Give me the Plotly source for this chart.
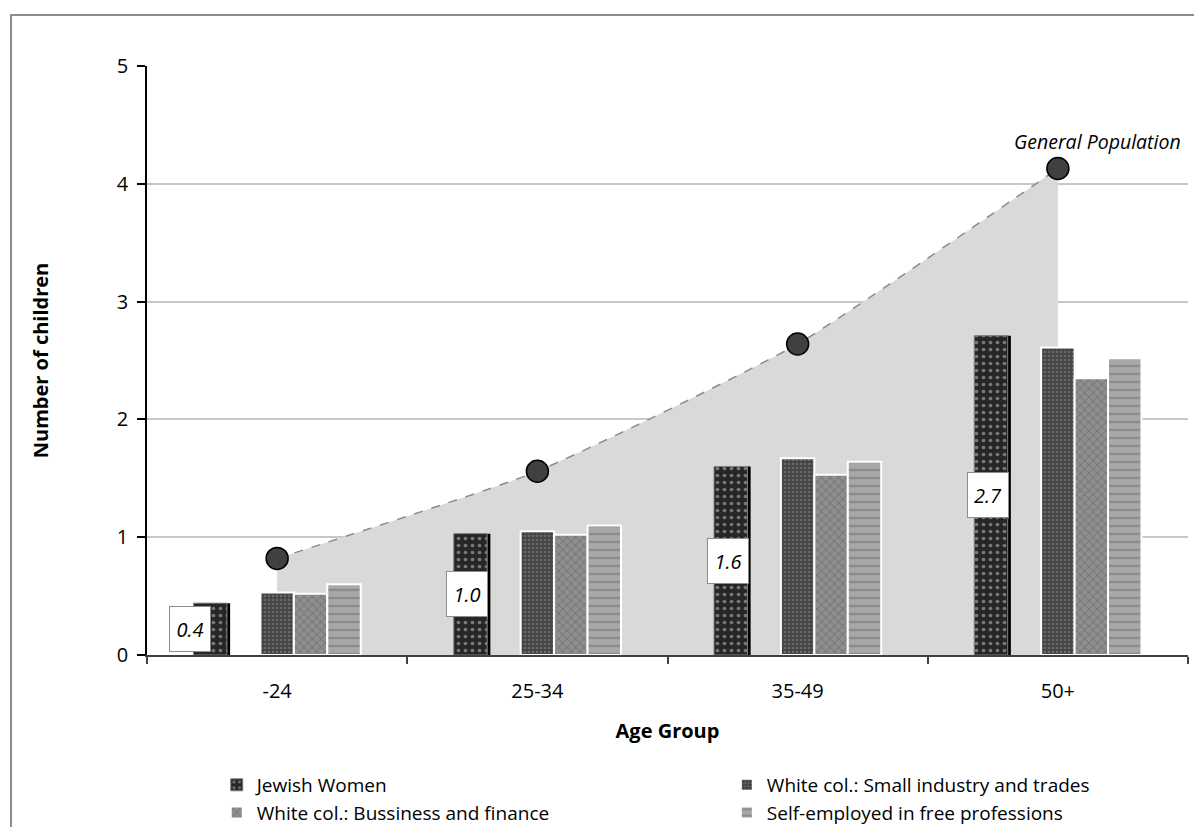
import plotly.graph_objects as go

# Age groups on the category axis
age_groups = ["-24", "25-34", "35-49", "50+"]

# Average number of children per group
jewish_women = [0.44, 1.03, 1.60, 2.71]
small_industry = [0.53, 1.05, 1.67, 2.61]
business_finance = [0.52, 1.02, 1.53, 2.35]
self_employed = [0.60, 1.10, 1.64, 2.52]
general_population = [0.82, 1.56, 2.64, 4.13]

FONT = "Open Sans"
FS = 20
SLOT = 0.1285          # width of one bar slot, in category units
GROUP_START = -2.5 * SLOT

def slot_offset(k):
    return GROUP_START + k * SLOT

fig = go.Figure()

# Shaded area under the general population curve (drawn on the base axes,
# so it sits behind the bars on the overlaid axes)
fig.add_trace(go.Scatter(
    x=age_groups, y=general_population,
    mode="lines", fill="tozeroy", fillcolor="#d9d9d9",
    line=dict(color="#8c8c8c", width=1.5, dash="dash", shape="spline", smoothing=0.5),
    showlegend=False, hoverinfo="skip",
    xaxis="x", yaxis="y",
))

# Drop shadow behind the Jewish Women bars
fig.add_trace(go.Bar(
    x=age_groups, y=jewish_women,
    offset=slot_offset(0) + 0.016, width=SLOT * 0.97,
    marker=dict(color="#000000", line=dict(width=0)),
    showlegend=False, hoverinfo="skip",
    xaxis="x2", yaxis="y2",
))

# name, values, slot, colour, pattern, outline, legend column
bar_series = [
    ("Jewish Women", jewish_women, 0, "#262626",
     dict(shape=".", fgcolor="#c8c8c8", size=7, solidity=0.22, fillmode="overlay"),
     dict(color="#7f7f7f", width=1), "legend"),
    ("White col.: Small industry and trades", small_industry, 2, "#444444",
     dict(shape=".", fgcolor="#8e8e8e", size=4, solidity=0.35, fillmode="overlay"),
     dict(color="#ffffff", width=2), "legend2"),
    ("White col.: Bussiness and finance", business_finance, 3, "#8f8f8f",
     dict(shape="x", fgcolor="#5e5e5e", size=6, solidity=0.3, fillmode="overlay"),
     dict(color="#ffffff", width=2), "legend"),
    ("Self-employed in free professions", self_employed, 4, "#a8a8a8",
     dict(shape="-", fgcolor="#6e6e6e", size=8, solidity=0.3, fillmode="overlay"),
     dict(color="#ffffff", width=2), "legend2"),
]

for name, values, slot, color, pattern, outline, legend in bar_series:
    fig.add_trace(go.Bar(
        x=age_groups, y=values, name=name,
        offset=slot_offset(slot), width=SLOT,
        marker=dict(color=color, pattern=pattern, line=outline),
        xaxis="x2", yaxis="y2", legend=legend,
    ))

# General population markers on top of everything
fig.add_trace(go.Scatter(
    x=age_groups, y=general_population,
    mode="markers",
    marker=dict(size=22, color="#404040", line=dict(color="#000000", width=1.5)),
    showlegend=False,
    xaxis="x2", yaxis="y2",
))

# Value boxes centred on the Jewish Women bars
for i, v in enumerate(jewish_women):
    fig.add_annotation(
        x=i + slot_offset(0) + SLOT / 2, y=v / 2,
        xref="x2", yref="y2",
        text=f"<i>{v:.1f}</i>", showarrow=False,
        xshift=-20 if i == 0 else -3,
        font=dict(family=FONT, size=20, color="#000000"),
        bgcolor="#ffffff", bordercolor="#8c8c8c", borderwidth=1,
        width=38, height=42, borderpad=1,
    )

fig.add_annotation(
    x=3, y=general_population[-1], xref="x2", yref="y2",
    text="<i>General Population</i>", showarrow=False,
    xanchor="left", yanchor="middle", xshift=-46, yshift=27,
    font=dict(family=FONT, size=19.5, color="#000000"),
)

# Outer chart frame
fig.add_shape(
    type="rect", xref="paper", yref="paper",
    x0=-0.1306, x1=1.2, y0=-0.5, y1=1.0866,
    line=dict(color="#8c8c8c", width=2), fillcolor="rgba(0,0,0,0)",
    layer="below",
)

axis_common = dict(type="category", categoryorder="array", categoryarray=age_groups,
                   range=[-0.5, 3.5])

legend_common = dict(
    orientation="v", yref="container", y=0.0738, yanchor="top", xanchor="left",
    font=dict(family=FONT, size=19), tracegroupgap=0,
    bgcolor="rgba(0,0,0,0)", itemwidth=30,
)

fig.update_layout(
    width=1194, height=827,
    margin=dict(l=147, r=6, t=66, b=172),
    paper_bgcolor="#ffffff", plot_bgcolor="#ffffff",
    barmode="overlay",
    font=dict(family=FONT, size=FS, color="#000000"),
    xaxis=dict(
        **axis_common,
        tickson="boundaries", ticks="outside", ticklen=7, tickwidth=1.5,
        tickcolor="#404040", showline=True, linecolor="#404040", linewidth=2,
        showgrid=False, ticklabelstandoff=17, automargin=False,
        tickfont=dict(family=FONT, size=FS),
        title=dict(text="<b>Age Group</b>", font=dict(family=FONT, size=FS), standoff=21),
    ),
    yaxis=dict(
        range=[0, 5], dtick=1, ticks="outside", ticklen=8, tickwidth=1.5,
        tickcolor="#000000", showline=True, linecolor="#000000", linewidth=1.5,
        showgrid=True, gridcolor="#c8c8c8", gridwidth=1.5, zeroline=False,
        ticklabelstandoff=5, tickfont=dict(family=FONT, size=FS), automargin=False,
        title=dict(text="<b>Number of children</b>", font=dict(family=FONT, size=FS), standoff=63),
    ),
    xaxis2=dict(**axis_common, overlaying="x", visible=False),
    yaxis2=dict(range=[0, 5], overlaying="y", visible=False),
    legend=dict(x=0.067, **legend_common),
    legend2=dict(x=0.557, **legend_common),
    showlegend=True,
)

fig.write_html("out.html")
